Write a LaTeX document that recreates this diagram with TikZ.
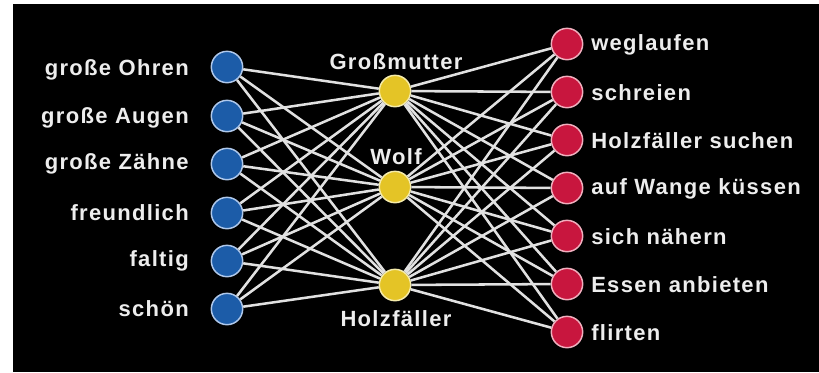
\documentclass[tikz,border=0pt]{standalone}
\usepackage{fontspec}
\setmainfont{Liberation Sans}
\newfontfamily\wordfont[LetterSpace=6]{Liberation Sans}
\usepackage{xcolor}
\usepackage{tikz}

\definecolor{cueblue}{RGB}{28,92,168}
\definecolor{cueedge}{RGB}{175,200,235}
\definecolor{catyellow}{RGB}{228,196,38}
\definecolor{catedge}{RGB}{245,235,170}
\definecolor{actred}{RGB}{200,22,62}
\definecolor{actedge}{RGB}{240,175,190}
\definecolor{wirewhite}{RGB}{225,225,225}

\begin{document}
\begin{tikzpicture}[x=0.75pt,y=-0.75pt]
        \tikzset{unit style/.style={circle, line width=1.1pt, minimum size=23.5pt, inner sep=0pt}}
        \tikzset{cue style/.style={unit style, draw=cueedge, fill=cueblue}}
        \tikzset{cat style/.style={unit style, draw=catedge, fill=catyellow}}
        \tikzset{act style/.style={unit style, draw=actedge, fill=actred}}
        \tikzset{label style/.style={text=white!93!black, inner sep=0pt, font=\wordfont\bfseries\fontsize{16.5}{19}\selectfont}}
        \tikzset{wire style/.style={line width=1.9pt, color=wirewhite}}

        \fill[white] (0,0) rectangle (819,372);
        \fill[black] (13,4) rectangle (819,372);

        % left column
        \node[cue style] (cue1) at (227,67) {};
        \node[cue style] (cue2) at (227,116) {};
        \node[cue style] (cue3) at (227,164) {};
        \node[cue style] (cue4) at (227,213) {};
        \node[cue style] (cue5) at (227,261) {};
        \node[cue style] (cue6) at (227,309) {};
        \node[label style, anchor=east] (cuetext1) at (189,70) {große Ohren};
        \node[label style, anchor=east] (cuetext2) at (189,118) {große Augen};
        \node[label style, anchor=east] (cuetext3) at (189,164) {große Zähne};
        \node[label style, anchor=east] (cuetext4) at (189,213) {freundlich};
        \node[label style, anchor=east] (cuetext5) at (189,261) {faltig};
        \node[label style, anchor=east] (cuetext6) at (189,309) {schön};

        % middle column
        \node[cat style] (cat1) at (395,91) {};
        \node[cat style] (cat2) at (395,187) {};
        \node[cat style] (cat3) at (395,285) {};
        \node[label style] (cattext1) at (396,62) {Großmutter};
        \node[label style] (cattext2) at (396,157) {Wolf};
        \node[label style] (cattext3) at (396,319) {Holzfäller};

        % right column
        \node[act style] (act1) at (567,44) {};
        \node[act style] (act2) at (567,92) {};
        \node[act style] (act3) at (567,140) {};
        \node[act style] (act4) at (567,188) {};
        \node[act style] (act5) at (567,236) {};
        \node[act style] (act6) at (567,284) {};
        \node[act style] (act7) at (567,332) {};
        \node[label style, anchor=west] (acttext1) at (591,45) {weglaufen};
        \node[label style, anchor=west] (acttext2) at (591,93) {schreien};
        \node[label style, anchor=west] (acttext3) at (591,141) {Holzfäller suchen};
        \node[label style, anchor=west] (acttext4) at (591,189) {auf Wange küssen};
        \node[label style, anchor=west] (acttext5) at (591,237) {sich nähern};
        \node[label style, anchor=west] (acttext6) at (591,285) {Essen anbieten};
        \node[label style, anchor=west] (acttext7) at (591,333) {flirten};

        % connections
        \foreach \c in {1,...,3} {
            \foreach \i in {1,...,6} \draw[wire style] (cue\i) -- (cat\c);
            \foreach \a in {1,...,7} \draw[wire style] (cat\c) -- (act\a);
        }
    \end{tikzpicture}
\end{document}
